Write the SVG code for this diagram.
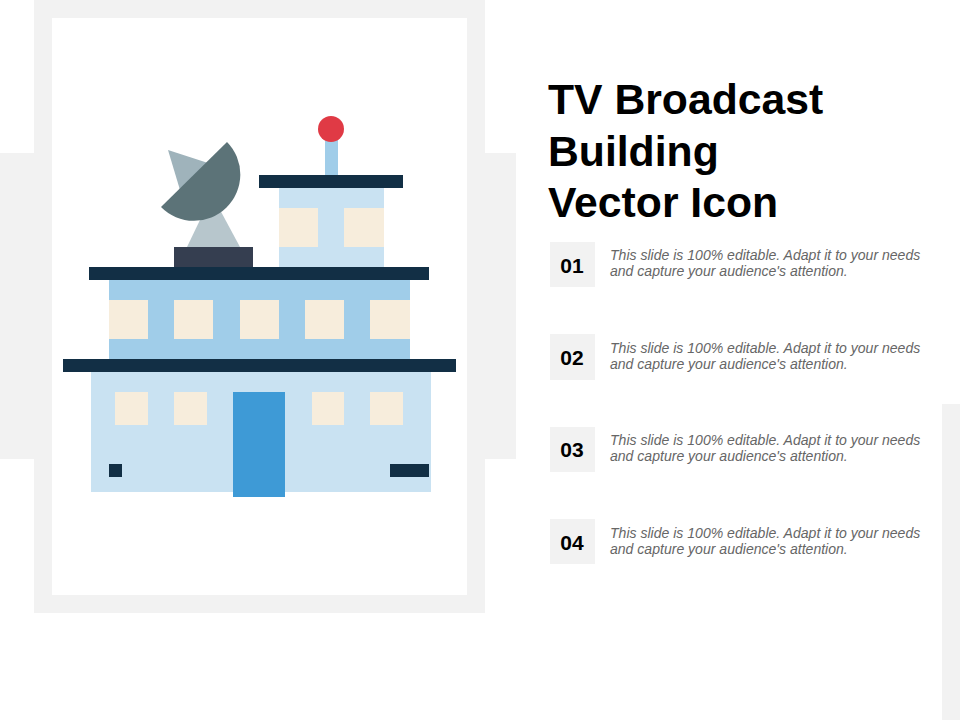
<svg xmlns="http://www.w3.org/2000/svg" width="960" height="720" viewBox="0 0 960 720">
<style>
.panel{fill:#f2f2f2}
.dark{fill:#122f45}
.light{fill:#c9e2f2}
.mid{fill:#a0cde9}
.win{fill:#f7eddc}
text{font-family:"Liberation Sans",Arial,sans-serif}
.title{font-size:42.7px;font-weight:700;fill:#000}
.num{font-size:21px;font-weight:700;fill:#000;text-anchor:middle}
.desc{font-size:14.05px;font-style:italic;fill:#666}
</style>
<rect width="960" height="720" fill="#fff"/>
<g id="background">
<rect class="panel" x="0" y="153" width="516" height="306"/>
<rect class="panel" x="34" y="0" width="451" height="613"/>
<rect x="52" y="18" width="415" height="577" fill="#fff"/>
<rect class="panel" x="942" y="404" width="18" height="316"/>
</g>
<g id="building">
<rect class="mid" x="325" y="135" width="13" height="40"/>
<circle cx="331" cy="129" r="13" fill="#e03a45"/>
<rect class="light" x="279" y="188" width="105" height="79"/>
<rect class="dark" x="259" y="175" width="144" height="13"/>
<rect class="win" x="279" y="208" width="39" height="39"/>
<rect class="win" x="344" y="208" width="40" height="39"/>
<polygon points="187,247 240,247 212,195" fill="#b7c6cc"/>
<polygon points="168,150 208,163 180,190" fill="#9fb3bb"/>
<path d="M227 142A46.3 46.3 0 0 1 161 207Z" fill="#5c7378"/>
<rect x="174" y="247" width="79" height="20" fill="#353e50"/>
<rect class="mid" x="109" y="280" width="301" height="79"/>
<rect class="dark" x="89" y="267" width="340" height="13"/>
<rect class="win" x="109" y="300" width="39" height="39"/>
<rect class="win" x="174" y="300" width="39" height="39"/>
<rect class="win" x="240" y="300" width="39" height="39"/>
<rect class="win" x="305" y="300" width="39" height="39"/>
<rect class="win" x="370" y="300" width="40" height="39"/>
<rect class="light" x="91" y="372" width="340" height="120"/>
<rect class="dark" x="63" y="359" width="393" height="13"/>
<rect class="win" x="115" y="392" width="33" height="33"/>
<rect class="win" x="174" y="392" width="33" height="33"/>
<rect class="win" x="312" y="392" width="32" height="33"/>
<rect class="win" x="370" y="392" width="33" height="33"/>
<rect x="233" y="392" width="52" height="105" fill="#3e9ad6"/>
<rect class="dark" x="109" y="464" width="13" height="13"/>
<rect class="dark" x="390" y="464" width="39" height="13"/>
</g>
<g id="title">
<text class="title" x="548" y="114">TV Broadcast</text>
<text class="title" x="548" y="166">Building</text>
<text class="title" x="548" y="217">Vector Icon</text>
</g>
<g id="item-01">
<rect class="panel" x="550" y="242" width="45" height="45"/>
<text class="num" x="572" y="273">01</text>
<text class="desc" x="610" y="260">This slide is 100% editable. Adapt it to your needs</text>
<text class="desc" x="610" y="276">and capture your audience's attention.</text>
</g>
<g id="item-02">
<rect class="panel" x="550" y="334" width="45" height="46"/>
<text class="num" x="572" y="365">02</text>
<text class="desc" x="610" y="353">This slide is 100% editable. Adapt it to your needs</text>
<text class="desc" x="610" y="369">and capture your audience's attention.</text>
</g>
<g id="item-03">
<rect class="panel" x="550" y="427" width="45" height="45"/>
<text class="num" x="572" y="457">03</text>
<text class="desc" x="610" y="445">This slide is 100% editable. Adapt it to your needs</text>
<text class="desc" x="610" y="461">and capture your audience's attention.</text>
</g>
<g id="item-04">
<rect class="panel" x="550" y="519" width="45" height="45"/>
<text class="num" x="572" y="550">04</text>
<text class="desc" x="610" y="538">This slide is 100% editable. Adapt it to your needs</text>
<text class="desc" x="610" y="554">and capture your audience's attention.</text>
</g>
</svg>
